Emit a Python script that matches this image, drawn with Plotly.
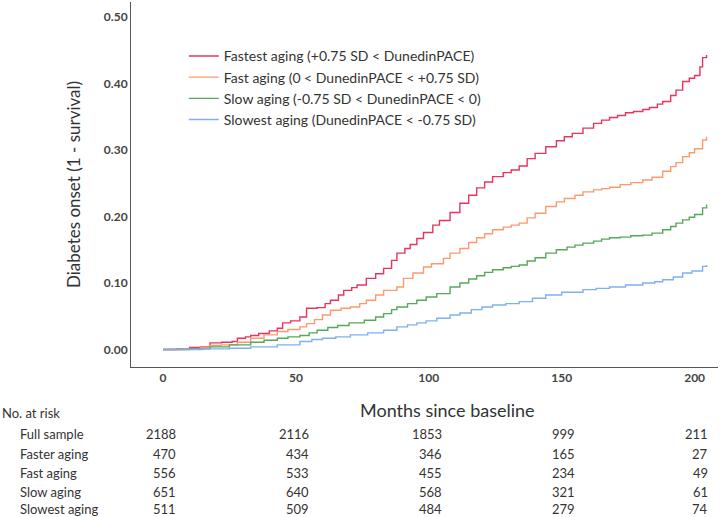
import plotly.graph_objects as go

# ---- Data ----
red_t = [0, 5, 10, 14, 17.7, 22, 26, 28, 31, 33, 36, 40, 43, 45, 48, 51.5, 54, 58, 61, 63, 66, 68, 71, 73,
         76.5, 80, 83, 86, 88, 91, 93, 95.5, 98, 101.5, 104, 108, 111.7, 115, 118, 121, 124, 128, 131, 134,
         137, 140, 144, 148, 151, 154, 158, 162, 165, 168, 171, 174, 177, 180.5, 183, 186, 188, 191, 193,
         195.5, 198, 200, 202, 203, 204.5]
red_v = [0, 0.001, 0.003, 0.004, 0.010, 0.011, 0.012, 0.017, 0.019, 0.021, 0.024, 0.028, 0.032, 0.040, 0.043,
         0.049, 0.062, 0.063, 0.069, 0.074, 0.082, 0.089, 0.093, 0.097, 0.107, 0.114, 0.122, 0.134, 0.145,
         0.152, 0.158, 0.167, 0.176, 0.187, 0.194, 0.206, 0.220, 0.232, 0.243, 0.252, 0.260, 0.266, 0.270,
         0.276, 0.287, 0.295, 0.305, 0.314, 0.320, 0.325, 0.333, 0.340, 0.345, 0.349, 0.352, 0.356, 0.358,
         0.361, 0.364, 0.369, 0.373, 0.382, 0.390, 0.403, 0.408, 0.412, 0.425, 0.439, 0.443]

orange_t = [0, 8, 14, 17.7, 22, 28, 33, 38, 43, 47, 51.5, 54, 57, 60, 63, 67, 70.5, 74, 76.5, 80, 83, 88,
            90.5, 94, 98, 101, 105.5, 108, 111.7, 115, 118, 121, 124, 128, 131, 134, 137, 140, 144, 148, 151,
            155, 158, 162, 165, 168, 172, 176, 180.5, 184, 188, 191, 193, 195.5, 198, 200, 203, 204.5]
orange_v = [0, 0.001, 0.003, 0.006, 0.007, 0.011, 0.017, 0.022, 0.027, 0.030, 0.034, 0.039, 0.045, 0.052,
            0.059, 0.062, 0.064, 0.069, 0.074, 0.082, 0.089, 0.094, 0.107, 0.115, 0.124, 0.129, 0.137, 0.145,
            0.152, 0.161, 0.168, 0.174, 0.180, 0.184, 0.187, 0.190, 0.198, 0.205, 0.215, 0.222, 0.227, 0.232,
            0.237, 0.240, 0.242, 0.244, 0.248, 0.251, 0.255, 0.259, 0.268, 0.275, 0.281, 0.290, 0.296, 0.302,
            0.315, 0.320]

green_t = [0, 10, 17.7, 25, 33, 38, 43, 47, 51.5, 55, 58, 62, 65.7, 70, 75.7, 80, 83, 86, 88, 92, 95.5, 99,
           103, 108, 111.7, 115, 118, 121, 124, 128, 131, 134, 137, 140, 144, 148, 152, 155, 158, 162, 165,
           168, 172, 176, 180.5, 184, 188, 191, 193, 195.5, 198, 200, 203, 204.5]
green_v = [0, 0.001, 0.004, 0.007, 0.011, 0.014, 0.017, 0.019, 0.021, 0.025, 0.029, 0.033, 0.036, 0.040,
           0.044, 0.049, 0.054, 0.060, 0.064, 0.069, 0.074, 0.079, 0.084, 0.094, 0.100, 0.106, 0.111, 0.116,
           0.120, 0.123, 0.125, 0.127, 0.133, 0.138, 0.145, 0.150, 0.154, 0.157, 0.160, 0.163, 0.166, 0.168,
           0.169, 0.171, 0.172, 0.175, 0.180, 0.185, 0.190, 0.195, 0.199, 0.203, 0.213, 0.218]

blue_t = [0, 15, 25, 33, 43, 51.5, 56, 60, 65, 70.5, 77, 83, 88, 92, 95.5, 99, 103, 108, 111.7, 116, 120,
          124, 129, 134, 139, 144, 150, 158, 163, 168, 174, 180.5, 185, 188, 192, 195.5, 199, 203, 204.5]
blue_v = [0, 0.001, 0.002, 0.004, 0.007, 0.012, 0.015, 0.017, 0.019, 0.022, 0.025, 0.029, 0.034, 0.037,
          0.040, 0.043, 0.047, 0.052, 0.055, 0.060, 0.064, 0.067, 0.069, 0.072, 0.077, 0.082, 0.086, 0.090,
          0.092, 0.094, 0.097, 0.100, 0.102, 0.105, 0.109, 0.115, 0.118, 0.125, 0.127]

series_names = [
    "Fastest aging (+0.75 SD < DunedinPACE)",
    "Fast aging (0 < DunedinPACE < +0.75 SD)",
    "Slow aging (-0.75 SD < DunedinPACE < 0)",
    "Slowest aging (DunedinPACE < -0.75 SD)",
]
series_colors = ["#e8345f", "#fb9a6c", "#56a85a", "#7fb0f2"]

x_ticks = [0, 50, 100, 150, 200]
risk_labels = ["Full sample", "Faster aging", "Fast aging", "Slow aging", "Slowest aging"]
risk_counts = [
    [2188, 2116, 1853, 999, 211],
    [470, 434, 346, 165, 27],
    [556, 533, 455, 234, 49],
    [651, 640, 568, 321, 61],
    [511, 509, 484, 279, 74],
]

FONT = "Lato"
TXT = "#333333"

fig = go.Figure()
for t, v, name, col in zip([red_t, orange_t, green_t, blue_t], [red_v, orange_v, green_v, blue_v],
                           series_names, series_colors):
    fig.add_trace(go.Scatter(x=t, y=v, mode="lines", name=name,
                             line=dict(color=col, width=1.4, shape="hv")))

H_PLOT_TOP, H_PLOT_BOT = 2, 367


def py(pix):
    return (H_PLOT_BOT - pix) / (H_PLOT_BOT - H_PLOT_TOP)


ann = []
ann.append(dict(text="Months since baseline", x=106.9, xref="x", y=py(410), yref="paper",
                showarrow=False, xanchor="center", yanchor="middle",
                font=dict(family=FONT, size=18, color=TXT)))
ann.append(dict(text="No. at risk", x=0, xref="paper", xshift=-131, y=py(413), yref="paper",
                showarrow=False, xanchor="left", yanchor="middle",
                font=dict(family=FONT, size=13, color=TXT)))
row_y = [434, 453.5, 473, 492, 509]
for lab, counts, ry in zip(risk_labels, risk_counts, row_y):
    ann.append(dict(text=lab, x=0, xref="paper", xshift=-113, y=py(ry), yref="paper",
                    showarrow=False, xanchor="left", yanchor="middle",
                    font=dict(family=FONT, size=13, color=TXT)))
    for xt, c in zip(x_ticks, counts):
        ann.append(dict(text=str(c), x=xt, xref="x", xshift=15, y=py(ry), yref="paper",
                        showarrow=False, xanchor="right", yanchor="middle",
                        font=dict(family=FONT, size=13, color=TXT)))

fig.update_layout(
    width=720, height=517,
    margin=dict(l=131, r=2, t=2, b=150),
    paper_bgcolor="white", plot_bgcolor="white",
    showlegend=True,
    legend=dict(x=0.09, y=0.895, xanchor="left", yanchor="top", bgcolor="rgba(0,0,0,0)",
                font=dict(family=FONT, size=14, color=TXT), itemwidth=30, tracegroupgap=0),
    annotations=ann,
    xaxis=dict(range=[-12.04, 208.8], tickvals=x_ticks, showgrid=False, zeroline=False,
               showline=True, linecolor="#555555", linewidth=1, ticks="",
               tickfont=dict(family=FONT, size=12, color="#444444", weight="bold")),
    yaxis=dict(range=[-0.0263, 0.5226], tickvals=[0, 0.1, 0.2, 0.3, 0.4, 0.5], tickformat=".2f",
               showgrid=False, zeroline=False, showline=True, linecolor="#555555", linewidth=1,
               ticks="", ticklen=0,
               tickfont=dict(family=FONT, size=12, color="#444444", weight="bold"),
               title=dict(text="Diabetes onset (1 - survival)", standoff=18,
                          font=dict(family=FONT, size=17, color=TXT))),
)

fig.write_html("out.html", config={"displayModeBar": False},
               post_script="document.body.style.margin='0';document.body.style.overflow='hidden';")
